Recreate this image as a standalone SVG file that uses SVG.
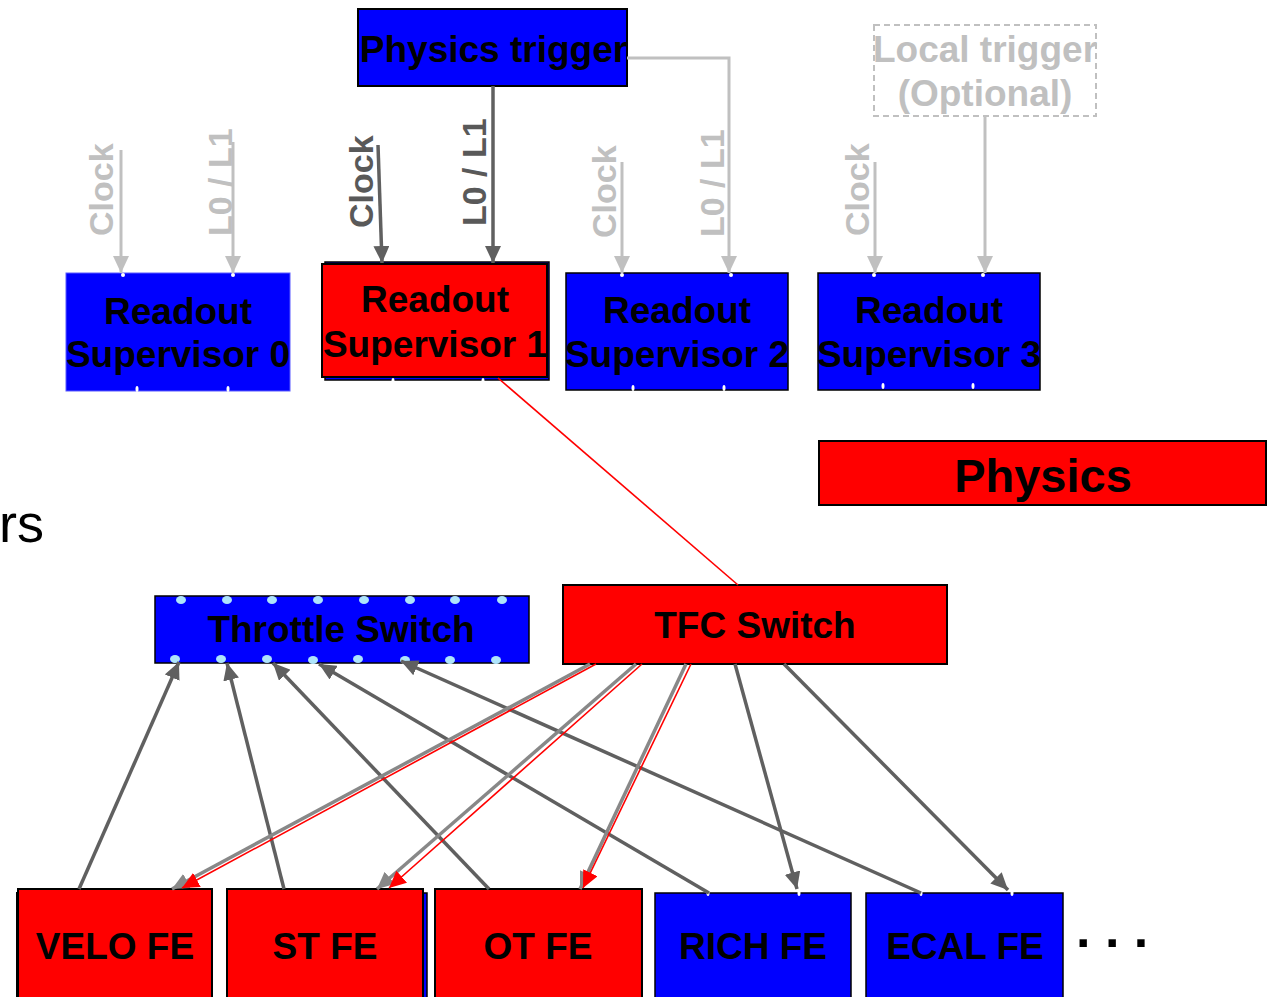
<svg xmlns="http://www.w3.org/2000/svg" width="1276" height="997" viewBox="0 0 1276 997">
<defs>
<style>
.t{font-family:"Liberation Sans",Arial,Helvetica,sans-serif;font-weight:bold;font-size:37px;text-anchor:middle;fill:#000}
.lbl{font-family:"Liberation Sans",Arial,Helvetica,sans-serif;font-weight:bold;font-size:34px;text-anchor:start}
.blue{fill:#0000ff;stroke:#000;stroke-width:1.5}
.red{fill:#ff0000;stroke:#000;stroke-width:2}
.lg{stroke:#c0c0c0;stroke-width:3;fill:none}
.dg{stroke:#606060;stroke-width:3.5;fill:none}
.mg{stroke:#888888;stroke-width:3.5;fill:none}
.rl{stroke:#ff0000;stroke-width:1.6;fill:none}
.wd{fill:#ffffff}
.ld{fill:#aee4fb}
</style>
<marker id="aLg" markerUnits="userSpaceOnUse" markerWidth="17" markerHeight="16" refX="17" refY="8" orient="auto"><path d="M0,0 L17,8 L0,16 z" fill="#c0c0c0"/></marker>
<marker id="aDg" markerUnits="userSpaceOnUse" markerWidth="17" markerHeight="16" refX="17" refY="8" orient="auto"><path d="M0,0 L17,8 L0,16 z" fill="#606060"/></marker>
<marker id="aMg" markerUnits="userSpaceOnUse" markerWidth="17" markerHeight="16" refX="17" refY="8" orient="auto"><path d="M0,0 L17,8 L0,16 z" fill="#888888"/></marker>
<marker id="aRd" markerUnits="userSpaceOnUse" markerWidth="17" markerHeight="16" refX="17" refY="8" orient="auto"><path d="M0,0 L17,8 L0,16 z" fill="#ff0000"/></marker>
</defs>
<rect width="1276" height="997" fill="#ffffff"/>

<text x="-1" y="542" style="font-family:'Liberation Sans',Arial,sans-serif;font-size:54px;fill:#000">rs</text>

<g id="physics-trigger">
<rect x="358" y="9" width="269" height="77" fill="#0000ff" stroke="#000" stroke-width="2"/>
<text class="t" x="493.5" y="62">Physics trigger</text>
</g>

<g id="local-trigger">
<rect x="874" y="25" width="222" height="91" fill="none" stroke="#c0c0c0" stroke-width="2" stroke-dasharray="6,4"/>
<text class="t" x="985" y="62" fill="#c0c0c0" style="fill:#c0c0c0">Local trigger</text>
<text class="t" x="985" y="106" style="fill:#c0c0c0">(Optional)</text>
</g>

<g id="readout-supervisor-0">
<rect x="66" y="273" width="224" height="118" fill="#0000ff" stroke="#5a5aff" stroke-width="1"/>
<text class="t" x="178" y="324">Readout</text>
<text class="t" x="178" y="367">Supervisor 0</text>
<ellipse class="wd" cx="123" cy="275" rx="2" ry="2"/>
<ellipse class="wd" cx="233" cy="275" rx="2" ry="2"/>
<ellipse class="wd" cx="137" cy="389" rx="1.5" ry="3"/>
<ellipse class="wd" cx="228" cy="389" rx="1.5" ry="3"/>
</g>

<g id="readout-supervisor-1">
<rect x="325" y="262" width="224" height="118" class="blue"/>
<rect x="322" y="264" width="225" height="113" class="red"/>
<text class="t" x="435" y="312">Readout</text>
<text class="t" x="435" y="357">Supervisor 1</text>
<ellipse class="wd" cx="393" cy="381" rx="1.5" ry="3"/>
<ellipse class="wd" cx="483" cy="381" rx="1.5" ry="3"/>
</g>

<g id="readout-supervisor-2">
<rect x="566" y="273" width="222" height="117" class="blue"/>
<text class="t" x="677" y="323">Readout</text>
<text class="t" x="677" y="367">Supervisor 2</text>
<ellipse class="wd" cx="622" cy="275" rx="2" ry="2"/>
<ellipse class="wd" cx="731" cy="275" rx="2" ry="2"/>
<ellipse class="wd" cx="633" cy="388" rx="1.5" ry="3"/>
<ellipse class="wd" cx="724" cy="388" rx="1.5" ry="3"/>
</g>

<g id="readout-supervisor-3">
<rect x="818" y="273" width="222" height="117" class="blue"/>
<text class="t" x="929" y="323">Readout</text>
<text class="t" x="929" y="367">Supervisor 3</text>
<ellipse class="wd" cx="874" cy="275" rx="2" ry="2"/>
<ellipse class="wd" cx="983" cy="275" rx="2" ry="2"/>
<ellipse class="wd" cx="883" cy="386" rx="1.5" ry="3"/>
<ellipse class="wd" cx="973" cy="386" rx="1.5" ry="3"/>
</g>

<g id="physics">
<rect x="819" y="441" width="447" height="64" class="red"/>
<text class="t" x="1043" y="492" style="font-size:47px">Physics</text>
</g>

<g id="throttle-switch">
<rect x="155" y="596" width="374" height="67" class="blue"/>
<text class="t" x="341" y="642">Throttle Switch</text>
<ellipse class="ld" cx="181" cy="600" rx="5" ry="4"/>
<ellipse class="ld" cx="227" cy="600" rx="5" ry="4"/>
<ellipse class="ld" cx="272" cy="600" rx="5" ry="4"/>
<ellipse class="ld" cx="318" cy="600" rx="5" ry="4"/>
<ellipse class="ld" cx="364" cy="600" rx="5" ry="4"/>
<ellipse class="ld" cx="410" cy="600" rx="5" ry="4"/>
<ellipse class="ld" cx="455" cy="600" rx="5" ry="4"/>
<ellipse class="ld" cx="502" cy="600" rx="5" ry="4"/>
<ellipse class="ld" cx="175" cy="659" rx="5" ry="4"/>
<ellipse class="ld" cx="221" cy="659" rx="5" ry="4"/>
<ellipse class="ld" cx="267" cy="659" rx="5" ry="4"/>
<ellipse class="ld" cx="313" cy="660" rx="5" ry="4"/>
<ellipse class="ld" cx="358" cy="659" rx="5" ry="4"/>
<ellipse class="ld" cx="405" cy="660" rx="5" ry="4"/>
<ellipse class="ld" cx="450" cy="660" rx="5" ry="4"/>
<ellipse class="ld" cx="496" cy="660" rx="5" ry="4"/>
</g>

<g id="tfc-switch">
<rect x="563" y="585" width="384" height="79" class="red"/>
<text class="t" x="755" y="638">TFC Switch</text>
</g>

<g id="velo-fe">
<rect x="16" y="892" width="194" height="110" fill="#000"/>
<rect x="18" y="889" width="194" height="112" class="red"/>
<text class="t" x="115" y="959">VELO FE</text>
</g>

<g id="st-fe">
<rect x="231" y="893" width="196" height="110" class="blue"/>
<rect x="227" y="889" width="196" height="112" class="red"/>
<text class="t" x="325" y="959">ST FE</text>
</g>

<g id="ot-fe">
<rect x="435" y="889" width="207" height="112" class="red"/>
<text class="t" x="538" y="959">OT FE</text>
</g>

<g id="rich-fe">
<rect x="655" y="893" width="196" height="108" class="blue"/>
<text class="t" x="753" y="959">RICH FE</text>
<ellipse class="wd" cx="708" cy="893" rx="1.5" ry="3"/>
<ellipse class="wd" cx="799" cy="893" rx="1.5" ry="3"/>
</g>

<g id="ecal-fe">
<rect x="866" y="893" width="197" height="108" class="blue"/>
<text class="t" x="965" y="959">ECAL FE</text>
<ellipse class="wd" cx="921" cy="893" rx="1.5" ry="3"/>
<ellipse class="wd" cx="1012" cy="893" rx="1.5" ry="3"/>
</g>

<text x="1076" y="947" style="font-family:'Liberation Sans',Arial,sans-serif;font-weight:bold;font-size:52px;fill:#000">. . .</text>

<g id="connectors">
<!-- top: clocks and L0/L1 -->
<line class="lg" x1="121" y1="150" x2="121" y2="273" marker-end="url(#aLg)"/>
<line class="lg" x1="233" y1="142" x2="233" y2="273" marker-end="url(#aLg)"/>
<line class="dg" x1="378" y1="145" x2="382" y2="263" marker-end="url(#aDg)"/>
<line class="dg" x1="493" y1="86" x2="493" y2="263" marker-end="url(#aDg)"/>
<line class="lg" x1="622" y1="162" x2="622" y2="273" marker-end="url(#aLg)"/>
<polyline class="lg" points="627,58 729,58 729,273" marker-end="url(#aLg)"/>
<line class="lg" x1="875" y1="162" x2="875" y2="273" marker-end="url(#aLg)"/>
<line class="lg" x1="985" y1="116" x2="985" y2="273" marker-end="url(#aLg)"/>
<text class="lbl" x="113" y="236" fill="#c0c0c0" transform="rotate(-90 113 236)">Clock</text>
<text class="lbl" x="232" y="236" fill="#c0c0c0" transform="rotate(-90 232 236)">L0 / L1</text>
<text class="lbl" x="373" y="228" fill="#595959" transform="rotate(-90 373 228)">Clock</text>
<text class="lbl" x="486" y="226" fill="#595959" transform="rotate(-90 486 226)">L0 / L1</text>
<text class="lbl" x="616" y="238" fill="#c0c0c0" transform="rotate(-90 616 238)">Clock</text>
<text class="lbl" x="724" y="237" fill="#c0c0c0" transform="rotate(-90 724 237)">L0 / L1</text>
<text class="lbl" x="869" y="236" fill="#c0c0c0" transform="rotate(-90 869 236)">Clock</text>
<!-- RS1 to TFC -->
<line class="rl" x1="498" y1="378" x2="738" y2="585"/>
<!-- FE to Throttle -->
<line class="dg" x1="79" y1="889" x2="179" y2="662" marker-end="url(#aDg)"/>
<line class="dg" x1="284" y1="889" x2="227" y2="663" marker-end="url(#aDg)"/>
<line class="dg" x1="489" y1="889" x2="273" y2="663" marker-end="url(#aDg)"/>
<line class="dg" x1="709" y1="893" x2="319" y2="664" marker-end="url(#aDg)"/>
<line class="dg" x1="921" y1="893" x2="401" y2="661" marker-end="url(#aDg)"/>
<!-- TFC to FE -->
<line class="mg" x1="590" y1="664" x2="172" y2="889" marker-end="url(#aMg)"/>
<line class="rl" x1="596" y1="664" x2="182" y2="888" marker-end="url(#aRd)"/>
<line class="mg" x1="636" y1="664" x2="377" y2="889" marker-end="url(#aMg)"/>
<line class="rl" x1="642" y1="664" x2="389" y2="888" marker-end="url(#aRd)"/>
<line class="mg" x1="686" y1="664" x2="580" y2="889" marker-end="url(#aMg)"/>
<line class="rl" x1="691" y1="664" x2="583" y2="888" marker-end="url(#aRd)"/>
<line class="dg" x1="735" y1="664" x2="797" y2="889" marker-end="url(#aDg)"/>
<line class="dg" x1="784" y1="664" x2="1008" y2="890" marker-end="url(#aDg)"/>
</g>
</svg>
